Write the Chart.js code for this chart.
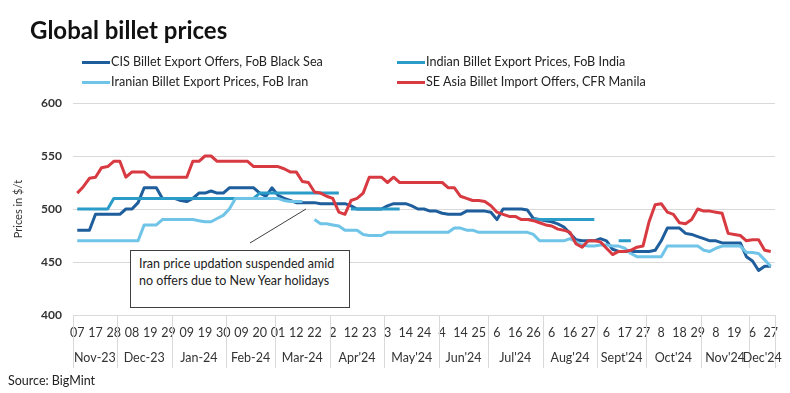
<!DOCTYPE html>
<html>
<head>
<meta charset="utf-8">
<script src="https://cdn.jsdelivr.net/npm/chart.js"></script>
<style>
html,body{margin:0;padding:0;background:#fff;}
#wrap{position:relative;width:790px;height:393px;overflow:hidden;font-family:Lato,'Open Sans',sans-serif;color:#222;}
#c{position:absolute;left:0;top:0;}
#title{position:absolute;left:30px;top:15px;font-size:24px;font-weight:bold;color:#111;line-height:30px;white-space:nowrap;}
.leg{position:absolute;height:16px;font-size:12.6px;line-height:16px;color:#222;display:flex;align-items:center;white-space:nowrap;}
.leg .sw{display:inline-block;width:28px;height:3px;margin-right:1px;}
#note{position:absolute;left:130px;top:250px;width:220px;height:58px;border:1px solid #404040;background:#fff;font-size:12.5px;line-height:17px;color:#222;padding:4px 0 0 8px;box-sizing:border-box;white-space:nowrap;}
#source{position:absolute;left:8px;top:373px;font-size:12.5px;line-height:16px;color:#222;}
</style>
</head>
<body>
<div id="wrap">
<canvas id="c" width="790" height="393"></canvas>
<div id="title">Global billet prices</div>
<div id="legend"></div>
<div id="note">Iran price updation suspended amid<br>no offers due to New Year holidays</div>
<div id="source">Source: BigMint</div>
</div>
<script>
// ---- categories (one per data point) ----
const dates = [
'2023-11-07','2023-11-10','2023-11-14','2023-11-17','2023-11-21','2023-11-24','2023-11-28','2023-12-01','2023-12-05',
'2023-12-08','2023-12-12','2023-12-15','2023-12-19','2023-12-22','2023-12-26','2023-12-29','2024-01-02','2024-01-05',
'2024-01-09','2024-01-12','2024-01-16','2024-01-19','2024-01-23','2024-01-26','2024-01-30','2024-02-02','2024-02-06',
'2024-02-09','2024-02-13','2024-02-16','2024-02-20','2024-02-23','2024-02-27','2024-03-01','2024-03-05','2024-03-08',
'2024-03-12','2024-03-15','2024-03-19','2024-03-22','2024-03-26','2024-03-29','2024-04-02','2024-04-05','2024-04-09',
'2024-04-12','2024-04-16','2024-04-19','2024-04-23','2024-04-26','2024-04-30','2024-05-03','2024-05-07','2024-05-10',
'2024-05-14','2024-05-17','2024-05-21','2024-05-24','2024-05-28','2024-05-31','2024-06-04','2024-06-07','2024-06-11',
'2024-06-14','2024-06-18','2024-06-21','2024-06-25','2024-06-28','2024-07-02','2024-07-06','2024-07-09','2024-07-12',
'2024-07-16','2024-07-19','2024-07-23','2024-07-26','2024-07-30','2024-08-02','2024-08-06','2024-08-09','2024-08-13',
'2024-08-16','2024-08-20','2024-08-23','2024-08-27','2024-08-30','2024-09-03','2024-09-06','2024-09-10','2024-09-13',
'2024-09-17','2024-09-20','2024-09-24','2024-09-27','2024-10-01','2024-10-04','2024-10-08','2024-10-11','2024-10-15',
'2024-10-18','2024-10-22','2024-10-25','2024-10-29','2024-11-01','2024-11-05','2024-11-08','2024-11-12','2024-11-15',
'2024-11-19','2024-11-22','2024-11-29','2024-12-06','2024-12-13','2024-12-20','2024-12-27'
];
// tick labels shown every 3rd category
const tickLabels = ['07','17','28','08','19','29','09','19','30','09','20','01','12','22','2','12','23','3','14','24',
  '4','14','25','6','16','26','6','16','27','6','17','27','8','18','29','8','19','6','27'];
const monthNames = ['Nov-23','Dec-23','Jan-24','Feb-24','Mar-24',"Apr'24","May'24","Jun'24","Jul'24","Aug'24","Sept'24","Oct'24","Nov'24","Dec'24"];

// ---- series ($/t) ----
const cisBlackSea = [
480,480,480,495,495,495,495,495,500,500,506,520,520,520,510,510,510,508,507,510,
515,515,517,515,515,520,520,520,520,520,515,512,520,513,510,508,506,506,506,506,
505,505,505,505,505,503,500,500,500,500,500,503,505,505,505,503,500,500,498,498,
496,495,495,495,498,498,498,498,497,490,500,500,500,500,499,491,490,489,488,486,
483,477,471,470,470,470,472,470,462,460,460,460,460,460,460,461,470,482,482,482,
477,476,474,472,470,470,468,468,468,468,455,451,442,446,446
];
const indiaFob = [
500,500,500,500,500,500,510,510,510,510,510,510,510,510,510,510,510,510,510,510,
510,510,510,510,510,510,510,510,510,510,515,515,515,515,515,515,515,515,515,515,
515,515,515,515,null,500,500,500,500,500,500,500,500,500,null,null,null,null,null,null,
null,null,null,null,null,null,null,null,null,null,null,null,null,490,490,490,490,490,490,490,
490,490,490,490,490,490,null,null,null,470,470,470,null,null,null,null,null,null,null,null,
null,null,null,null,null,null,null,null,null,null,null,null,null,null,null
];
const iranFob = [
470,470,470,470,470,470,470,470,470,470,470,485,485,485,490,490,490,490,490,490,
489,488,488,491,494,500,510,510,510,510,510,510,510,510,508,507,507,507,null,490,
486,486,485,484,480,480,480,476,475,475,475,478,478,478,478,478,478,478,478,478,
478,478,482,482,480,480,478,478,478,478,478,478,478,478,478,476,470,470,470,470,
470,472,469,466,465,465,466,466,465,465,463,458,455,455,455,455,455,465,465,465,
465,465,465,461,460,463,465,465,465,465,459,459,458,452,446
];
const seAsiaManila = [
515,521,529,530,539,540,545,545,530,535,535,535,530,530,530,530,530,530,530,545,
545,550,550,545,545,545,545,545,545,540,540,540,540,540,538,535,535,526,525,516,
515,512,510,497,495,508,510,515,530,530,530,525,530,525,525,525,525,525,525,525,
525,520,520,512,510,508,508,507,503,497,495,493,493,490,490,489,487,485,484,481,
480,478,467,464,470,470,469,463,457,460,460,461,464,465,488,504,505,497,495,487,
486,490,500,498,498,497,496,477,476,475,470,471,471,461,460
];

const seriesNames = ['CIS Billet Export Offers, FoB Black Sea','Indian Billet Export Prices, FoB India',
  'Iranian Billet Export Prices, FoB Iran','SE Asia Billet Import Offers, CFR Manila'];
const seriesData = [cisBlackSea, indiaFob, iranFob, seAsiaManila];
const seriesColors = ['#1f5e9c','#2b9bc8','#6fc4e8','#d83a41'];
const seriesOrder = [3,2,1,0];

// ---- legend (HTML) ----
const legPos = [[82,54],[397,54],[82,74],[397,74]];
const legEl = document.getElementById('legend');
seriesNames.forEach((n,i)=>{
  const d = document.createElement('div');
  d.className='leg';
  d.style.left = legPos[i][0]+'px';
  d.style.top = legPos[i][1]+'px';
  d.innerHTML = '<span class="sw" style="background:'+seriesColors[i]+'"></span>'+n;
  legEl.appendChild(d);
});

const FONT = "Lato, 'Open Sans', sans-serif";

const monthPlugin = {
  id:'months',
  afterDraw(chart){
    const {ctx, chartArea} = chart;
    const x = chart.scales.x;
    const groups = [];
    dates.forEach((d,i)=>{
      const m = d.slice(0,7);
      if(!groups.length || groups[groups.length-1].m!==m) groups.push({m:m,start:i});
    });
    const bounds=[chartArea.left];
    for(let g=1; g<groups.length; g++) bounds.push(x.getPixelForValue(groups[g].start-0.5));
    bounds.push(chartArea.right);
    ctx.save();
    ctx.strokeStyle='#d9d9d9'; ctx.lineWidth=1;
    bounds.forEach(b=>{
      const px=Math.round(b)+0.5;
      ctx.beginPath(); ctx.moveTo(px,chartArea.bottom); ctx.lineTo(px,chartArea.bottom+53); ctx.stroke();
    });
    ctx.fillStyle='#333'; ctx.font='12.5px '+FONT; ctx.textAlign='center'; ctx.textBaseline='middle';
    groups.forEach((g,k)=>ctx.fillText(monthNames[k],(bounds[k]+bounds[k+1])/2,358));
    // annotation pointer
    ctx.strokeStyle='#404040'; ctx.lineWidth=1;
    ctx.beginPath(); ctx.moveTo(250,243); ctx.lineTo(306,209); ctx.stroke();
    ctx.restore();
  }
};

new Chart(document.getElementById('c'),{
  type:'line',
  data:{
    datasets: seriesData.map((vals,i)=>({
      label: seriesNames[i],
      data: vals.map((v,j)=>({x:j,y:v})),
      borderColor: seriesColors[i],
      backgroundColor: seriesColors[i],
      borderWidth: 3,
      pointRadius: 0,
      tension: 0,
      spanGaps: false,
      borderJoinStyle: 'round',
      order: seriesOrder[i]
    }))
  },
  options:{
    responsive:false,
    animation:false,
    devicePixelRatio:1,
    layout:{padding:{top:103,right:15,bottom:0,left:0}},
    plugins:{legend:{display:false},tooltip:{enabled:false},title:{display:false}},
    scales:{
      x:{
        type:'linear', min:-0.7, max:114.7,
        grid:{display:false,drawTicks:false}, border:{display:false},
        afterBuildTicks: s => { s.ticks = tickLabels.map((_,k)=>({value:k*3})); },
        ticks:{autoSkip:false, maxRotation:0, padding:10, color:'#333', font:{family:FONT,size:12.5},
          callback:(v,idx)=>tickLabels[idx]},
        afterFit: s => { s.height = 78; }
      },
      y:{
        min:400, max:600,
        grid:{color:'#d9d9d9',drawTicks:false}, border:{display:false},
        ticks:{stepSize:50, padding:11, color:'#333', font:{family:FONT,size:12,weight:'bold'}},
        title:{display:true, text:'Prices in $/t', color:'#333', font:{family:FONT,size:11}, padding:{top:12,bottom:0}},
        afterFit: s => { s.width = 73; }
      }
    }
  },
  plugins:[monthPlugin]
});
</script>
</body>
</html>
